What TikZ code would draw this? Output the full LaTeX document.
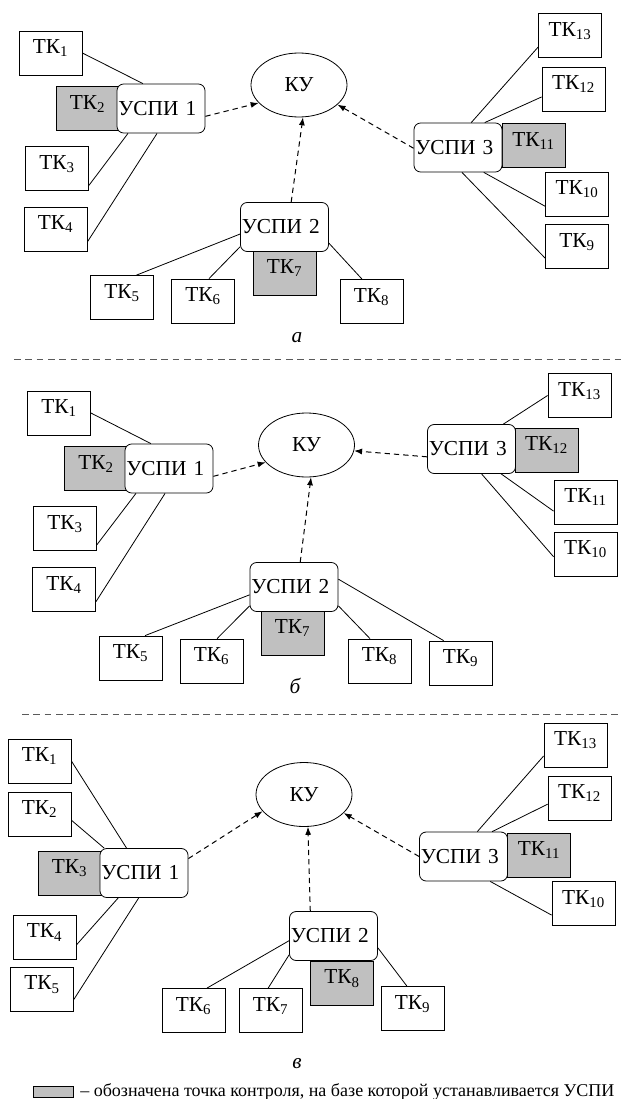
\documentclass[tikz,border=0pt]{standalone}
\usepackage{fontspec}
\setmainfont{Liberation Serif}
\usetikzlibrary{shapes.geometric,arrows.meta}
\definecolor{tkgray}{RGB}{192,192,192}
\definecolor{sepgray}{RGB}{90,90,90}
\newcommand{\tkl}[1]{ТК\textsubscript{#1}}

\begin{document}
\begin{tikzpicture}[x=0.75pt,y=-0.75pt,
    tk/.style={draw,line width=0.6pt,minimum width=47.25pt,minimum height=33pt,
      inner sep=0pt,text height=10pt,text depth=9.2pt,font=\fontsize{16}{19}\selectfont},
    tkbase/.style={tk,fill=tkgray},
    uspi/.style={draw,fill=white,rounded corners=5pt,line width=0.6pt,minimum height=36.75pt,
      inner sep=0pt,inner xsep=1pt,text width=64pt,align=left,font=\fontsize{16}{19}\selectfont},
    ku/.style={draw,ellipse,line width=0.6pt,minimum width=72pt,minimum height=48pt,
      inner sep=0pt,font=\fontsize{16}{19}\selectfont},
    link/.style={line width=0.6pt},
    feed/.style={line width=0.75pt,dash pattern=on 4pt off 3pt,-{Latex[length=6pt,width=4.5pt]}},
    sep/.style={sepgray,line width=0.75pt,dash pattern=on 5pt off 3.5pt},
    caption/.style={font=\fontsize{16}{19}\selectfont\itshape},
    keybox/.style={draw,fill=tkgray,line width=0.6pt,minimum width=30pt,minimum height=8.25pt,inner sep=0pt}]

  \useasboundingbox (0,0) rectangle (621,1099);

  % a
  \path
    (50.5,53) node[tk] (a1){\tkl{1}}
    (87.5,108.5) node[tkbase] (a2){\tkl{2}}
    (57,168.5) node[tk] (a3){\tkl{3}}
    (55.5,229) node[tk] (a4){\tkl{4}}
    (122,297.5) node[tk] (a5){\tkl{5}}
    (203,301) node[tk] (a6){\tkl{6}}
    (284.5,273) node[tkbase] (a7){\tkl{7}}
    (371.5,301.5) node[tk] (a8){\tkl{8}}
    (577,246.5) node[tk] (a9){\tkl{9}}
    (577,194) node[tk] (a10){\tkl{10}}
    (533.5,145.5) node[tkbase] (a11){\tkl{11}}
    (573.5,89) node[tk] (a12){\tkl{12}}
    (570,35.5) node[tk] (a13){\tkl{13}};
  \path
    (299,85) node[ku] (aku){КУ}
    (161,108.5) node[uspi] (au1){УСПИ 1}
    (284.5,227) node[uspi] (au2){УСПИ 2}
    (458,147.5) node[uspi] (au3){УСПИ 3};
  \begin{scope}[link]
    \draw (a1.east) to (au1.126);
    \draw (au1.217) to (a3.-28);
    \draw (au1.261) to (a4.-22);
    \draw (au2.189) to (a5.57);
    \draw (au2.204) to (a6.75);
    \draw (au2.-20) to (a8.113);
    \draw (au3.62) to (a13.200);
    \draw (au3.43) to (a12.194);
    \draw (au3.-44) to (a10.201);
    \draw (au3.-81) to (a9.200);
  \end{scope}
  \begin{scope}[feed]
    \draw (au1.-10) to (aku.204);
    \draw (au2.75) to (aku.-83);
    \draw (au3.181) to (aku.-27);
  \end{scope}
  \node[caption] (capa) at (297,338) {а};
  \draw[sep] (14,359) -- (621,359);

  % b
  \path
    (59,413) node[tk] (b1){\tkl{1}}
    (96,468.5) node[tkbase] (b2){\tkl{2}}
    (65,528.5) node[tk] (b3){\tkl{3}}
    (64,589.5) node[tk] (b4){\tkl{4}}
    (130.5,658) node[tk] (b5){\tkl{5}}
    (211.5,661) node[tk] (b6){\tkl{6}}
    (292.5,633) node[tkbase] (b7){\tkl{7}}
    (379.5,661) node[tk] (b8){\tkl{8}}
    (460.5,663) node[tk] (b9){\tkl{9}}
    (585.5,554) node[tk] (b10){\tkl{10}}
    (585.5,502) node[tk] (b11){\tkl{11}}
    (546.5,450) node[tkbase] (b12){\tkl{12}}
    (579.5,395.5) node[tk] (b13){\tkl{13}};
  \path
    (306.5,445) node[ku] (bku){КУ}
    (169,468.5) node[uspi] (bu1){УСПИ 1}
    (294,587) node[uspi] (bu2){УСПИ 2}
    (471.5,449) node[uspi] (bu3){УСПИ 3};
  \begin{scope}[link]
    \draw (b1.east) to (bu1.126);
    \draw (bu1.217) to (b3.-27);
    \draw (bu1.261) to (b4.-21);
    \draw (bu2.190) to (b5.57);
    \draw (bu2.203) to (b6.76);
    \draw (bu2.-23) to (b8.113);
    \draw (bu2.10) to (b9.127);
    \draw (bu3.38) to (b13.west);
    \draw (bu3.-40) to (b11.196);
    \draw (bu3.-68) to (b10.185);
  \end{scope}
  \begin{scope}[feed]
    \draw (bu1.-10) to (bku.203);
    \draw (bu2.76) to (bku.-82);
    \draw (bu3.190) to (bku.-7);
  \end{scope}
  \node[caption] (capb) at (295,686) {б};
  \draw[sep] (22,714) -- (621,714);

  % c
  \path
    (39.5,761) node[tk] (c1){\tkl{1}}
    (39.5,814) node[tk] (c2){\tkl{2}}
    (69.5,873) node[tkbase] (c3){\tkl{3}}
    (44.5,937) node[tk] (c4){\tkl{4}}
    (42,989) node[tk] (c5){\tkl{5}}
    (193.5,1010.5) node[tk] (c6){\tkl{6}}
    (270.5,1010.5) node[tk] (c7){\tkl{7}}
    (342,983) node[tkbase] (c8){\tkl{8}}
    (412.5,1008.5) node[tk] (c9){\tkl{9}}
    (583.5,903.5) node[tk] (c10){\tkl{10}}
    (539,855) node[tkbase] (c11){\tkl{11}}
    (579.5,798) node[tk] (c12){\tkl{12}}
    (575.5,745) node[tk] (c13){\tkl{13}};
  \path
    (304,794.5) node[ku] (cku){КУ}
    (144,873) node[uspi] (cu1){УСПИ 1}
    (333.5,936) node[uspi] (cu2){УСПИ 2}
    (463.5,856.5) node[uspi] (cu3){УСПИ 3};
  \begin{scope}[link]
    \draw (c1.east) to (cu1.125);
    \draw (c2.-11) to (cu1.148);
    \draw (cu1.224) to (c4.-14);
    \draw (cu1.258) to (c5.-18);
    \draw (cu2.186) to (c6.59);
    \draw (cu2.203) to (c7.96);
    \draw (cu2.-15) to (c9.104);
    \draw (cu3.61) to (c13.199);
    \draw (cu3.41) to (c12.191);
    \draw (cu3.-43) to (c10.200);
  \end{scope}
  \begin{scope}[feed]
    \draw (cu1.18) to (cku.202);
    \draw (cu2.133) to (cku.-83);
    \draw (cu3.180) to (cku.-25);
  \end{scope}
  \node[caption] (capc) at (297,1064) {в};

  % key
  \node[keybox] (key) at (53,1091.5) {};
  \node[anchor=base west,inner sep=0pt,font=\fontsize{13.5}{16}\selectfont] (keytext) at (80,1096)
    {– обозначена точка контроля, на базе которой устанавливается УСПИ};
\end{tikzpicture}
\end{document}
